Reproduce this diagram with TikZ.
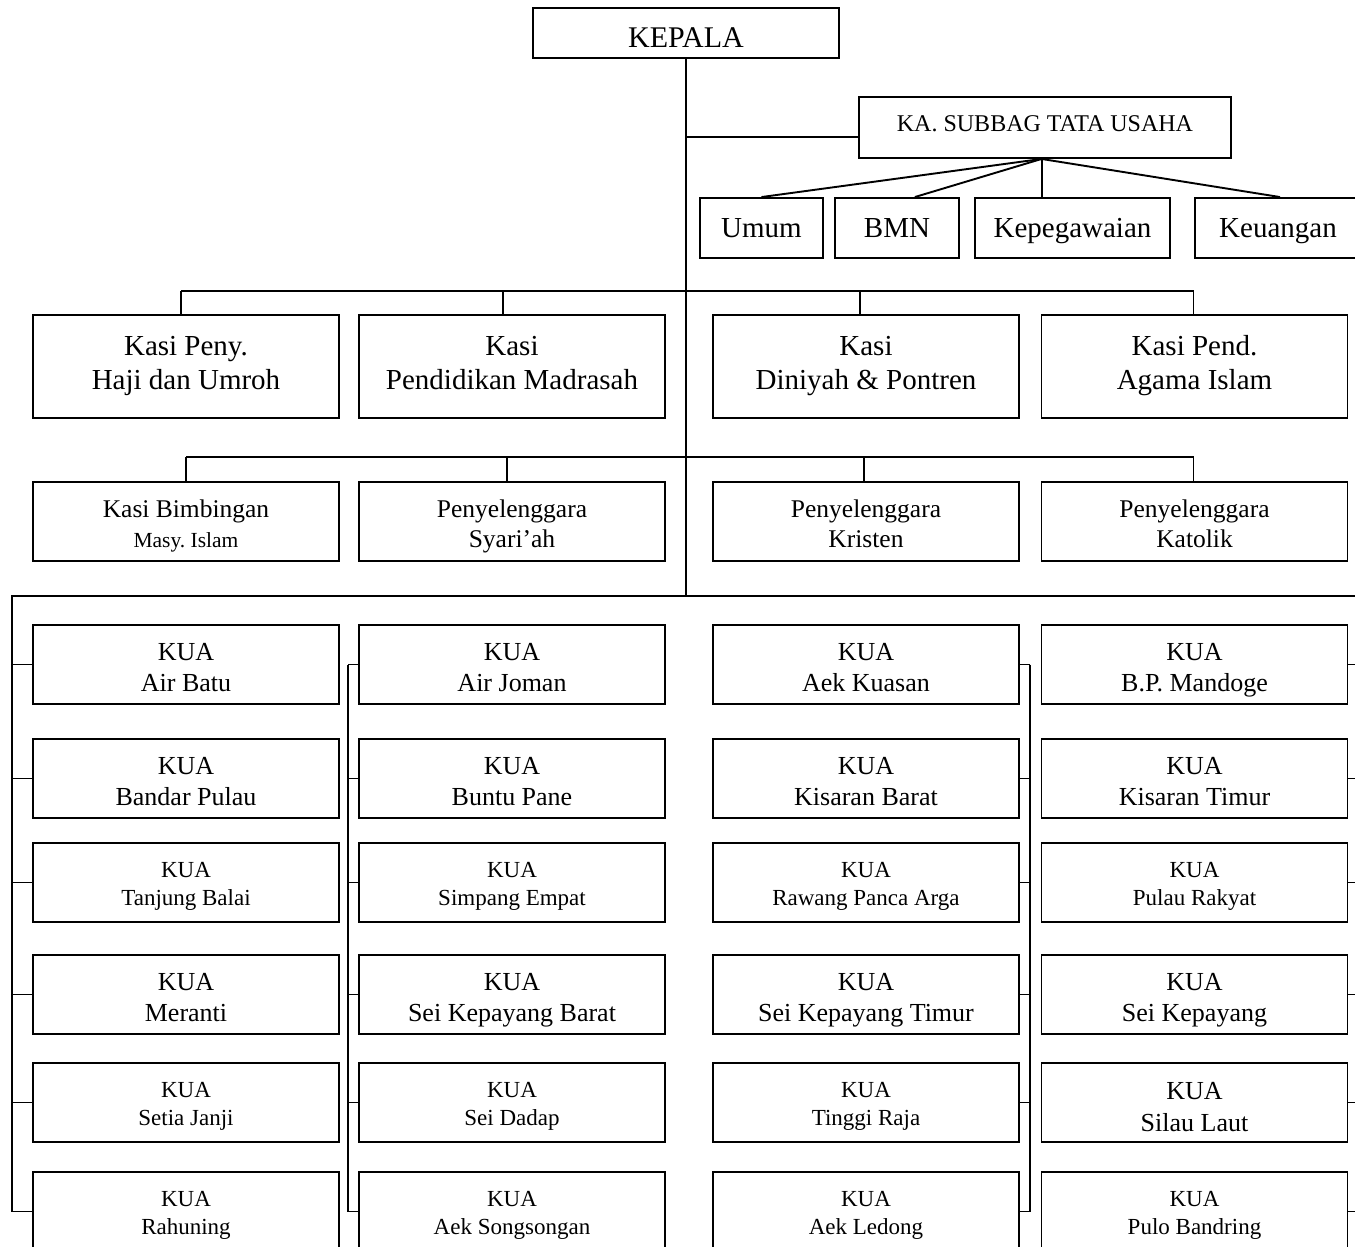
\documentclass[tikz,border=0pt]{standalone}
\usepackage{fontspec}
\setmainfont{Liberation Serif}
\usetikzlibrary{calc}
\newcommand\fsz[2]{\fontsize{#1}{#2}\selectfont}
\frenchspacing
\begin{document}
\begin{tikzpicture}[x=1pt,y=-1pt,
  box/.style={draw,line width=1.9pt,inner sep=0pt,align=center,minimum width=306pt,minimum height=79pt},
  ln/.style={line width=1.9pt},
  big/.style={font=\fsz{26}{31},text height=53pt,text depth=0pt},
  small/.style={font=\fsz{23}{28},text height=45pt,text depth=0pt},
  kasi/.style={box,minimum height=103pt,font=\fsz{29}{34},text depth=8pt},
  pen/.style={box,font=\fsz{25.5}{30},text height=51pt,text depth=0pt},
  sub/.style={box,minimum height=60pt,font=\fsz{29}{34},text depth=0pt}]
\clip (0,0) rectangle (1355,1247);
\fill[white] (0,0) rectangle (1355,1247);

% top
\node[box,minimum width=306pt,minimum height=50pt,font=\fsz{30}{36},text height=30pt,text depth=0pt] (kepala) at (686,33) {KEPALA};
\node[box,minimum width=372pt,minimum height=61pt,font=\fsz{24}{28},text depth=7pt] (ka) at (1045,127.5) {KA. SUBBAG TATA USAHA};
\node[sub,minimum width=123pt] (umum) at (761.5,228) {Umum};
\node[sub,minimum width=124pt] (bmn) at (897,228) {BMN};
\node[sub,minimum width=195pt] (kep) at (1072.5,228) {Kepegawaian};
\node[sub,minimum width=166pt] (keu) at (1278,228) {Keuangan};

% kasi row
\node[kasi] (s1) at (186,366.5) {Kasi Peny.\\Haji dan Umroh};
\node[kasi] (s2) at (512,366.5) {Kasi\\Pendidikan Madrasah};
\node[kasi] (s3) at (866,366.5) {Kasi\\Diniyah \& Pontren};
\node[kasi] (s4) at (1194.5,366.5) {Kasi Pend.\\Agama Islam};

% second row
\node[pen] (t1) at (186,521.5) {Kasi Bimbingan\\{\fsz{21.5}{28}Masy. Islam}};
\node[pen] (t2) at (512,521.5) {Penyelenggara\\Syari’ah};
\node[pen] (t3) at (866,521.5) {Penyelenggara\\Kristen};
\node[pen] (t4) at (1194.5,521.5) {Penyelenggara\\Katolik};

% KUA column 1
\node[box,big]   (k11) at (186,664.5)  {KUA\\Air Batu};
\node[box,big]   (k12) at (186,778.5)  {KUA\\Bandar Pulau};
\node[box,small] (k13) at (186,882.5)  {KUA\\Tanjung Balai};
\node[box,big]   (k14) at (186,994.5)  {KUA\\Meranti};
\node[box,small] (k15) at (186,1102.5) {KUA\\Setia Janji};
\node[box,small] (k16) at (186,1211.5) {KUA\\Rahuning};
% KUA column 2
\node[box,big]   (k21) at (512,664.5)  {KUA\\Air Joman};
\node[box,big]   (k22) at (512,778.5)  {KUA\\Buntu Pane};
\node[box,small] (k23) at (512,882.5)  {KUA\\Simpang Empat};
\node[box,big]   (k24) at (512,994.5)  {KUA\\Sei Kepayang Barat};
\node[box,small] (k25) at (512,1102.5) {KUA\\Sei Dadap};
\node[box,small] (k26) at (512,1211.5) {KUA\\Aek Songsongan};
% KUA column 3
\node[box,big]   (k31) at (866,664.5)  {KUA\\Aek Kuasan};
\node[box,big]   (k32) at (866,778.5)  {KUA\\Kisaran Barat};
\node[box,small] (k33) at (866,882.5)  {KUA\\Rawang Panca Arga};
\node[box,big]   (k34) at (866,994.5)  {KUA\\Sei Kepayang Timur};
\node[box,small] (k35) at (866,1102.5) {KUA\\Tinggi Raja};
\node[box,small] (k36) at (866,1211.5) {KUA\\Aek Ledong};
% KUA column 4
\node[box,big]   (k41) at (1194.5,664.5)  {KUA\\B.P. Mandoge};
\node[box,big]   (k42) at (1194.5,778.5)  {KUA\\Kisaran Timur};
\node[box,small] (k43) at (1194.5,882.5)  {KUA\\Pulau Rakyat};
\node[box,big]   (k44) at (1194.5,994.5)  {KUA\\Sei Kepayang};
\node[box,font=\fsz{26}{32},text height=57pt,text depth=0pt] (k45) at (1194.5,1102.5) {KUA\\Silau Laut};
\node[box,small] (k46) at (1194.5,1211.5) {KUA\\Pulo Bandring};

% connector coordinates
\coordinate (r2) at (0,291);
\coordinate (r3) at (0,457);
\coordinate (kuaL) at (12,596);
\coordinate (kuaR) at (1362,596);
\coordinate (b2) at (348,0);
\coordinate (b3) at (1030,0);
\coordinate (b4) at (1362,0);
\coordinate (kaj) at (ka.south -| kep.135);

% main trunk
\draw[ln] (kepala.south) -- (kepala.south |- kuaL);
\draw[ln] (kepala.south |- ka.183) -- (ka.183);
\draw[ln] (kaj) -- (umum.north);
\draw[ln] (kaj) -- (bmn.60);
\draw[ln] (kaj) -- (kep.135);
\draw[ln] (kaj) -- ($(keu.north)+(2,0)$);

% kasi buses
\foreach \i/\dx in {1/-5,2/-9,3/-6,4/-1} {
  \coordinate (sd\i) at ($(s\i.north)+(\dx,0)$);
}
\foreach \i/\dx in {1/0,2/-5,3/-2,4/-1} {
  \coordinate (td\i) at ($(t\i.north)+(\dx,0)$);
}
\draw[ln] (sd1 |- r2) -- (sd4 |- r2);
\draw[ln] (td1 |- r3) -- (td4 |- r3);
\foreach \i in {1,2,3,4} {
  \draw[ln] (sd\i |- r2) -- (sd\i);
  \draw[ln] (td\i |- r3) -- (td\i);
}

% KUA buses
\draw[ln] (kuaR) -- (kuaL) -- (kuaL |- k16.west);
\draw[ln] (b2 |- k21.west) -- (b2 |- k26.west);
\draw[ln] (b3 |- k31.east) -- (b3 |- k36.east);
\draw[ln] (kuaR) -- (b4 |- k46.east);
\foreach \i in {1,...,6} {
  \draw[ln] (kuaL |- k1\i.west) -- (k1\i.west);
  \draw[ln] (b2 |- k2\i.west) -- (k2\i.west);
  \draw[ln] (k3\i.east) -- (b3 |- k3\i.east);
  \draw[ln] (k4\i.east) -- (b4 |- k4\i.east);
}
\end{tikzpicture}
\end{document}
